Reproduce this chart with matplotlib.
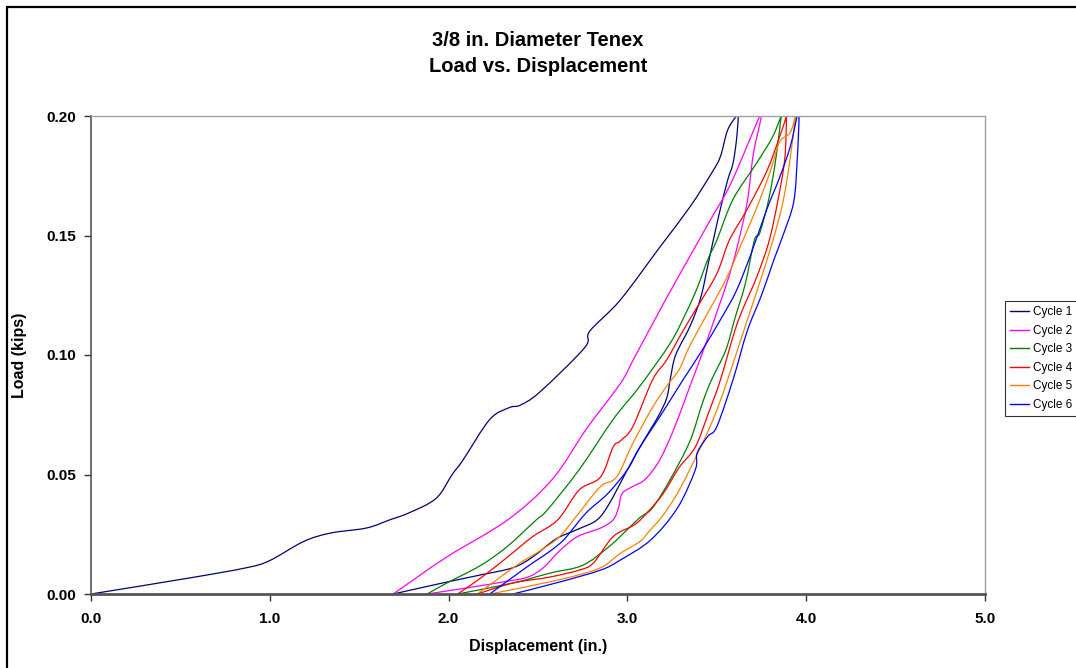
import numpy as np
import matplotlib
matplotlib.use("Agg")
import matplotlib.pyplot as plt
from matplotlib.patches import Rectangle, PathPatch
from matplotlib.path import Path

plt.rcParams['font.family'] = ['Liberation Sans', 'DejaVu Sans']

# cycle 1 (loading then unloading)
c1_load_x = [0, 0.55, 0.87, 1.0, 1.19, 1.34, 1.54, 1.67, 1.78, 1.93, 2.02, 2.08, 2.23, 2.34, 2.40, 2.51, 2.76, 2.79, 2.96, 3.18, 3.35, 3.47, 3.52, 3.56, 3.61]
c1_load_y = [0, .0067, .011, .014, .022, .0255, .0276, .031, .034, .040, .050, .056, .073, .078, .079, .0845, .103, .110, .123, .145, .162, .176, .183, .194, .200]
c1_unl_x = [3.62, 3.61, 3.59, 3.56, 3.51, 3.46, 3.41, 3.35, 3.27, 3.24, 3.22, 3.17, 3.09, 3.00, 2.90, 2.83, 2.72, 2.60, 2.47, 2.36, 2.18, 1.99, 1.69]
c1_unl_y = [.200, .190, .180, .173, .158, .141, .124, .112, .100, .090, .082, .074, .064, .052, .038, .031, .027, .023, .0155, .011, .008, .005, 0]

# cycle 2
c2_load_x = [1.69, 1.99, 2.33, 2.58, 2.77, 2.96, 3.04, 3.22, 3.37, 3.46, 3.58, 3.74]
c2_load_y = [0, .0155, .031, .048, .069, .088, .099, .124, .144, .156, .172, .200]
c2_unl_x = [3.75, 3.72, 3.70, 3.67, 3.61, 3.56, 3.51, 3.44, 3.35, 3.26, 3.18, 3.10, 3.03, 2.97, 2.95, 2.92, 2.85, 2.72, 2.62, 2.53, 2.44, 2.30, 2.14, 1.88]
c2_unl_y = [.200, .190, .182, .164, .144, .131, .120, .105, .087, .069, .056, .048, .045, .042, .036, .031, .0276, .024, .018, .011, .007, .005, .003, 0]

# cycle 3
c3_load_x = [1.88, 1.99, 2.18, 2.33, 2.49, 2.55, 2.73, 2.92, 3.07, 3.24, 3.33, 3.39, 3.45, 3.50, 3.59, 3.72, 3.81, 3.86]
c3_load_y = [0, .0046, .012, .020, .031, .035, .052, .073, .087, .105, .118, .128, .140, .148, .165, .180, .191, .200]
c3_unl_x = [3.86, 3.83, 3.79, 3.74, 3.71, 3.66, 3.60, 3.55, 3.47, 3.42, 3.35, 3.24, 3.14, 3.07, 3.00, 2.90, 2.75, 2.57, 2.36, 2.05]
c3_unl_y = [.200, .182, .165, .151, .148, .130, .115, .102, .0895, .080, .064, .048, .036, .032, .027, .020, .012, .0088, .0046, 0]

# cycle 4
c4_load_x = [2.05, 2.18, 2.33, 2.47, 2.61, 2.73, 2.85, 2.92, 2.96, 3.03, 3.14, 3.22, 3.31, 3.39, 3.50, 3.57, 3.67, 3.78, 3.85, 3.89]
c4_load_y = [0, .0067, .0155, .024, .031, .0435, .049, .0615, .064, .070, .0895, .098, .110, .120, .134, .148, .161, .177, .191, .200]
c4_unl_x = [3.89, 3.88, 3.84, 3.79, 3.72, 3.65, 3.60, 3.52, 3.45, 3.38, 3.29, 3.20, 3.11, 3.04, 2.92, 2.81, 2.73, 2.56, 2.36, 2.16]
c4_unl_y = [.200, .182, .164, .147, .132, .120, .110, .0895, .075, .0615, .053, .042, .034, .029, .024, .013, .010, .007, .0046, 0]

# cycle 5
c5_load_x = [2.16, 2.27, 2.40, 2.51, 2.62, 2.73, 2.85, 2.94, 3.03, 3.14, 3.22, 3.29, 3.35, 3.46, 3.56, 3.64, 3.72, 3.80, 3.85, 3.91, 3.94]
c5_load_y = [0, .006, .013, .018, .024, .034, .045, .049, .063, .078, .087, .094, .104, .119, .133, .147, .161, .177, .189, .193, .200]
c5_unl_x = [3.94, 3.91, 3.87, 3.81, 3.73, 3.65, 3.56, 3.49, 3.41, 3.29, 3.20, 3.13, 3.07, 2.96, 2.85, 2.66, 2.40, 2.23]
c5_unl_y = [.200, .182, .164, .147, .128, .110, .0895, .075, .0615, .0435, .033, .027, .022, .017, .011, .0067, .0025, 0]

# cycle 6
c6_load_x = [2.23, 2.36, 2.47, 2.55, 2.62, 2.66, 2.77, 2.89, 3.00, 3.07, 3.18, 3.31, 3.41, 3.53, 3.61, 3.69, 3.78, 3.85, 3.91, 3.95]
c6_load_y = [0, .0071, .013, .017, .021, .024, .034, .042, .052, .0615, .074, .0895, .101, .116, .127, .142, .161, .174, .187, .200]
c6_unl_x = [3.96, 3.95, 3.93, 3.87, 3.82, 3.75, 3.67, 3.59, 3.50, 3.45, 3.39, 3.38, 3.28, 3.13, 2.96, 2.85, 2.62, 2.36]
c6_unl_y = [.200, .182, .164, .150, .140, .125, .110, .0895, .070, .066, .059, .052, .036, .0226, .0142, .010, .005, 0]

labels = ['Cycle 1', 'Cycle 2', 'Cycle 3', 'Cycle 4', 'Cycle 5', 'Cycle 6']
colors = ['#000080', '#FF00FF', '#008000', '#FF0000', '#FF8000', '#0000FF']
x_ticks = [0.0, 1.0, 2.0, 3.0, 4.0, 5.0]
y_ticks = [0.00, 0.05, 0.10, 0.15, 0.20]

cycles = [
    (c1_load_x + c1_unl_x, c1_load_y + c1_unl_y),
    (c2_load_x + c2_unl_x, c2_load_y + c2_unl_y),
    (c3_load_x + c3_unl_x, c3_load_y + c3_unl_y),
    (c4_load_x + c4_unl_x, c4_load_y + c4_unl_y),
    (c5_load_x + c5_unl_x, c5_load_y + c5_unl_y),
    (c6_load_x + c6_unl_x, c6_load_y + c6_unl_y),
]


def smooth_path(xs, ys):
    # Excel-like "smoothed line": cubic bezier segments through the points
    p = np.column_stack([xs, ys])
    n = len(p)
    verts = [p[0]]
    codes = [Path.MOVETO]
    for i in range(n - 1):
        p0 = p[i - 1] if i > 0 else p[i]
        p3 = p[i + 2] if i + 2 < n else p[i + 1]
        c1 = p[i] + (p[i + 1] - p0) / 6.0
        c2 = p[i + 1] - (p3 - p[i]) / 6.0
        verts += [c1, c2, p[i + 1]]
        codes += [Path.CURVE4] * 3
    return Path(verts, codes)


fig = plt.figure(figsize=(10.76, 6.68), dpi=100)
ax = fig.add_axes([91/1076, 74/668, 894/1076, 478/668])

for (xs, ys), lab, col in zip(cycles, labels, colors):
    ax.add_patch(PathPatch(smooth_path(xs, ys), fill=False, edgecolor=col, lw=0.9))
    ax.plot([], [], color=col, lw=1.0, label=lab)

ax.set_xlim(0, 5)
ax.set_ylim(0, 0.20)
ax.set_xticks(x_ticks)
ax.set_yticks(y_ticks)
ax.set_xticklabels(['%.1f' % v for v in x_ticks], fontsize=11, fontweight='bold')
ax.set_yticklabels(['%.2f' % v for v in y_ticks], fontsize=11, fontweight='bold')
ax.tick_params(direction='out', length=5, width=1, color='#333333', pad=5.5)
ax.tick_params(axis='x', pad=8)

for s in ['top', 'right']:
    ax.spines[s].set_color('#a0a0a0')
    ax.spines[s].set_linewidth(1)
ax.spines['left'].set_color('#555555')
ax.spines['left'].set_linewidth(1.2)
ax.spines['bottom'].set_color('#555555')
ax.spines['bottom'].set_linewidth(2)
ax.spines['bottom'].set_zorder(5)

ax.set_xlabel('Displacement (in.)', fontsize=11.5, fontweight='bold')
ax.set_ylabel('Load (kips)', fontsize=11.5, fontweight='bold')
ax.xaxis.set_label_coords(0.5, -(639 - 594) / 478)
ax.yaxis.set_label_coords((27 - 91) / 894, 0.5)

fig.text(538/1076, 1 - 41/668, '3/8 in. Diameter Tenex', ha='center', va='center',
         fontsize=14.5, fontweight='bold')
fig.text(538/1076, 1 - 66/668, 'Load vs. Displacement', ha='center', va='center',
         fontsize=14.5, fontweight='bold')

leg = ax.legend(loc='upper left', bbox_to_anchor=(1005/1076, 1 - 301/668),
                bbox_transform=fig.transFigure, fontsize=8.5, frameon=True,
                fancybox=False, edgecolor='black', handlelength=1.6,
                handletextpad=0.3, labelspacing=0.55, borderpad=0.45, borderaxespad=0)
leg.get_frame().set_linewidth(0.8)

# outer chart border (right and bottom sides lie off the picture)
fig.patches.append(Rectangle((7/1076, -0.05), 1.1, 1 - 7/668 + 0.05, transform=fig.transFigure,
                             fill=False, edgecolor='black', lw=1.6))

fig.savefig('out.png', dpi=100)
